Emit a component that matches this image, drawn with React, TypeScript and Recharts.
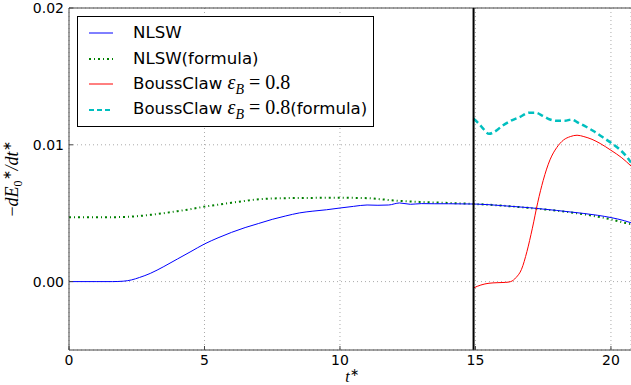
import React from 'react';
import { LineChart, Line, XAxis, YAxis, CartesianGrid, ReferenceLine } from 'recharts';

// values in units of 1e-3
const nlswT = [0, 1, 1.6, 2, 2.3, 2.6, 3, 3.5, 4, 4.5, 5, 5.5, 6, 6.5, 7, 7.5, 8, 8.5, 9, 9.5, 10, 10.5, 11, 11.4, 11.8, 12.2, 12.6, 13, 13.5, 14, 14.5, 15, 16, 17, 18, 19, 19.5, 20, 20.5, 20.74];
const nlswE = [0, 0, 0, 0.03, 0.12, 0.3, 0.6, 1.1, 1.65, 2.2, 2.75, 3.2, 3.6, 3.95, 4.25, 4.55, 4.8, 5.02, 5.15, 5.25, 5.38, 5.5, 5.6, 5.58, 5.6, 5.75, 5.65, 5.7, 5.69, 5.69, 5.68, 5.67, 5.55, 5.4, 5.2, 4.98, 4.85, 4.68, 4.45, 4.3];

const formulaT = [0, 1, 2, 2.5, 3, 3.5, 4, 4.5, 5, 5.5, 6, 6.5, 7, 8, 9, 10, 11, 11.5, 12, 13, 14, 15, 16, 17, 18, 19, 19.5, 20, 20.5, 20.74];
const formulaE = [4.7, 4.7, 4.72, 4.78, 4.88, 5.0, 5.15, 5.3, 5.48, 5.62, 5.77, 5.9, 6.02, 6.1, 6.12, 6.13, 6.1, 6.02, 5.93, 5.82, 5.75, 5.67, 5.55, 5.38, 5.18, 4.92, 4.75, 4.55, 4.3, 4.2];

const boussT = [14.93, 15.2, 15.5, 15.8, 16.1, 16.3, 16.5, 16.7, 16.9, 17.1, 17.3, 17.5, 17.75, 18.0, 18.25, 18.5, 18.75, 19.0, 19.3, 19.6, 20.0, 20.4, 20.74];
const boussE = [-0.46, -0.25, -0.12, -0.08, -0.06, 0, 0.3, 0.9, 2.2, 3.9, 5.8, 7.4, 8.9, 9.8, 10.35, 10.6, 10.7, 10.6, 10.4, 10.1, 9.6, 9.05, 8.45];

const boussFT = [14.93, 15.1, 15.3, 15.5, 15.7, 16.0, 16.3, 16.6, 17.0, 17.2, 17.5, 17.75, 18.0, 18.3, 18.55, 18.8, 19.1, 19.4, 19.7, 20.0, 20.3, 20.55, 20.74];
const boussFE = [11.9, 11.6, 11.15, 10.8, 10.95, 11.4, 11.75, 12.0, 12.35, 12.35, 12.1, 11.85, 11.75, 11.75, 11.85, 11.6, 11.3, 10.95, 10.55, 10.15, 9.7, 9.2, 8.7];

const xTicks = [0, 5, 10, 15, 20];
const yTicks = [0, 10, 20];
const tStart = 14.93;

const rows = (t: number[], v: number[]) => t.map((x, i) => ({ t: x, v: v[i] }));

const legendItems = [
  { name: 'NLSW', color: '#0000ff', width: 1, dash: undefined as string | undefined, math: false, suffix: '' },
  { name: 'NLSW(formula)', color: '#008000', width: 2, dash: '2 3 1 3', math: false, suffix: '' },
  { name: 'BoussClaw ', color: '#ff0000', width: 1, dash: undefined, math: true, suffix: '' },
  { name: 'BoussClaw ', color: '#00bfbf', width: 2, dash: '5 3', math: true, suffix: '(formula)' },
];

const tickStyle = { fontFamily: 'DejaVu Sans', fontSize: 14, fill: '#000' };

const YLabel = ({ viewBox }: any) => {
  const cx = viewBox.x + 18;
  const cy = viewBox.y + viewBox.height / 2;
  return (
    <text x={cx} y={cy} transform={`rotate(-90 ${cx} ${cy})`} textAnchor="middle" fontFamily="Liberation Serif" fontSize={18} fill="#000">
      <tspan>−</tspan>
      <tspan fontStyle="italic">dE</tspan>
      <tspan fontSize={12} dy={4}>0</tspan>
      <tspan fontSize={12} dy={-11}>∗</tspan>
      <tspan dy={7} fontStyle="italic">/dt</tspan>
      <tspan fontSize={12} dy={-7}>∗</tspan>
    </text>
  );
};

const XLabel = ({ viewBox }: any) => {
  const cx = viewBox.x + viewBox.width / 2 + 2;
  const cy = viewBox.y + 32;
  return (
    <text x={cx} y={cy} textAnchor="middle" fontFamily="Liberation Serif" fontSize={16} fill="#000">
      <tspan fontStyle="italic">t</tspan>
      <tspan fontSize={11} dy={-6}>∗</tspan>
    </text>
  );
};

const ChartLegend = () => (
  <div
    style={{
      position: 'absolute', left: 77, top: 16, width: 297, height: 111,
      border: '1px solid #000', background: '#fff', boxSizing: 'border-box',
      fontFamily: 'DejaVu Sans', fontSize: 16.6, color: '#000', paddingTop: 3,
    }}
  >
    {legendItems.map((it) => (
      <div key={it.name + it.suffix} style={{ display: 'flex', alignItems: 'center', height: 25.7 }}>
        <svg width={44} height={10} style={{ marginLeft: 10 }}>
          <line x1={1} x2={25} y1={5} y2={5} stroke={it.color} strokeWidth={it.width} strokeDasharray={it.dash} />
        </svg>
        <span style={{ marginLeft: 1, whiteSpace: 'nowrap' }}>
          {it.name}
          {it.math && (
            <span style={{ fontFamily: 'Liberation Serif', fontSize: 20 }}>
              <i>ε</i><sub style={{ fontSize: 14 }}><i>B</i></sub> = 0.8
            </span>
          )}
          {it.suffix}
        </span>
      </div>
    ))}
  </div>
);

export default function App() {
  return (
    <div style={{ position: 'absolute', left: 0, top: 0, width: 631, height: 385, background: '#fff' }}>
      <LineChart width={631} height={385} margin={{ top: 8, right: 0, bottom: 0, left: 0 }}>
        <CartesianGrid stroke="#aaa" strokeDasharray="1 3" />
        <XAxis
          type="number"
          dataKey="t"
          domain={[0, 20.74]}
          ticks={xTicks}
          allowDataOverflow
          height={35}
          tickSize={-4}
          tickMargin={9}
          tick={tickStyle}
          stroke="#444"
          label={<XLabel />}
        />
        <YAxis
          type="number"
          domain={[-5, 20]}
          ticks={yTicks}
          allowDataOverflow
          width={69}
          tickSize={-4}
          tickMargin={9}
          tick={tickStyle}
          tickFormatter={(v: number) => (v / 1000).toFixed(2)}
          stroke="#444"
          label={<YLabel />}
        />
        <ReferenceLine y={20} stroke="#444" />
        <Line data={rows(formulaT, formulaE)} dataKey="v" stroke="#008000" strokeWidth={2} strokeDasharray="2 3 1 3" dot={false} type="monotone" isAnimationActive={false} />
        <Line data={rows(nlswT, nlswE)} dataKey="v" stroke="#0000ff" strokeWidth={1} dot={false} type="monotone" isAnimationActive={false} />
        <Line data={rows(boussFT, boussFE)} dataKey="v" stroke="#00bfbf" strokeWidth={2.5} strokeDasharray="6 3.5" dot={false} type="monotone" isAnimationActive={false} />
        <Line data={rows(boussT, boussE)} dataKey="v" stroke="#ff0000" strokeWidth={1} dot={false} type="monotone" isAnimationActive={false} />
        <ReferenceLine x={tStart} stroke="#000" strokeWidth={2} />
      </LineChart>
      <ChartLegend />
    </div>
  );
}
